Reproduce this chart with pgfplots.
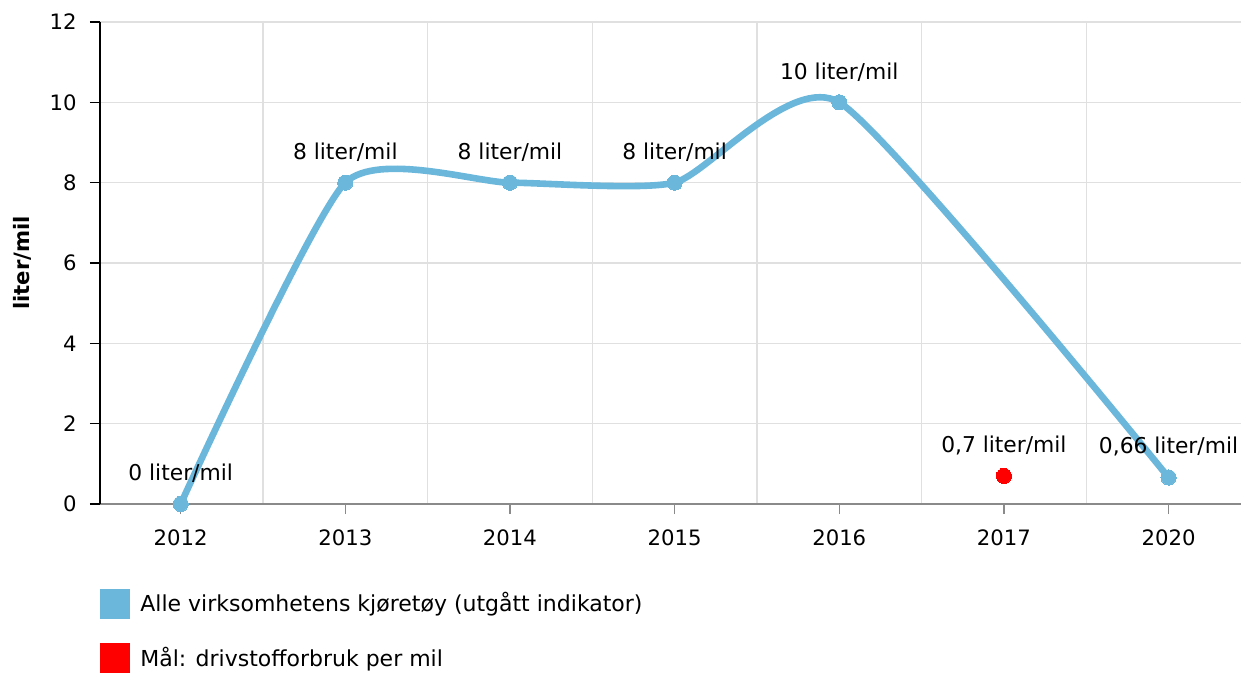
\documentclass[border=0pt]{standalone}
\usepackage{pgfplots}
\pgfplotsset{compat=1.18}
\usepackage{fontspec}
\setmainfont{DejaVu Sans}
\definecolor{serieblue}{HTML}{6BB7DC}
\definecolor{gridgray}{HTML}{E0E0E0}
\definecolor{axisgray}{HTML}{8A8A8A}

\begin{document}
\fontsize{10.6}{12}\selectfont
\begin{tikzpicture}
  \useasboundingbox (-50pt,-84.5pt) rectangle (570.5pt,252pt);
  \begin{axis}[
    scale only axis,
    width=570.5pt, height=241pt,
    xmin=-0.49, xmax=6.44,
    ymin=0, ymax=12,
    xtick={0,1,2,3,4,5,6},
    xticklabels={2012,2013,2014,2015,2016,2017,2020},
    minor xtick={0.5,1.5,2.5,3.5,4.5,5.5},
    ytick={0,2,4,6,8,10,12},
    axis x line*=bottom,
    axis y line*=left,
    x axis line style={axisgray, line width=0.8pt},
    y axis line style={black, line width=0.8pt},
    tick align=outside,
    major tick length=5pt,
    minor tick length=0pt,
    xtick style={axisgray, line width=0.6pt},
    ytick style={black, line width=0.8pt},
    ymajorgrids, xminorgrids,
    major grid style={gridgray, line width=0.6pt},
    minor grid style={gridgray, line width=0.6pt},
    xticklabel style={font=\fontsize{10.6}{12}\selectfont, yshift=-4pt},
    yticklabel style={font=\fontsize{10.6}{12}\selectfont, xshift=-3pt},
    /pgf/number format/assume math mode=true,
    ylabel={\bfseries liter/mil},
    ylabel style={font=\fontsize{14}{15}\selectfont},
    every axis y label/.style={at={(axis description cs:0,0.5)}, xshift=-39pt, rotate=90, anchor=center},
    clip=false,
    nodes near coords,
    point meta=explicit symbolic,
    every node near coord/.append style={font=\fontsize{10.9}{12}\selectfont, anchor=south, yshift=7pt, text=black},
    legend cell align=left,
    legend style={at={(0,0)}, anchor=north west, yshift=-42pt, draw=none, fill=none,
      inner sep=0pt, row sep=12pt, font=\fontsize{11}{13}\selectfont,
      /tikz/every odd column/.append style={column sep=3pt}},
  ]
    \addplot[serieblue, line width=3.3pt, smooth, tension=0.35,
      mark=*, mark size=3.8pt, mark options={fill=serieblue, draw=serieblue, line width=0pt},
      legend image code/.code={\fill[serieblue, draw=none] (0pt,-7.5pt) rectangle (15pt,7.5pt);}]
      coordinates {
      (0,0) [0 liter/mil]
      (1,8) [8 liter/mil]
      (2,8) [8 liter/mil]
      (3,8) [8 liter/mil]
      (4,10) [10 liter/mil]
      (6,0.66) [0,66 liter/mil]
    };
    \addlegendentry{Alle virksomhetens kjøretøy (utgått indikator)}
    \addplot[only marks, red, mark=*, mark size=3.8pt, mark options={fill=red, draw=red, line width=0pt},
      legend image code/.code={\fill[red, draw=none] (0pt,-7.5pt) rectangle (15pt,7.5pt);}]
      coordinates {
      (5,0.7) [0,7 liter/mil]
    };
    \addlegendentry{Mål: drivstofforbruk per mil}
  \end{axis}
\end{tikzpicture}
\end{document}
